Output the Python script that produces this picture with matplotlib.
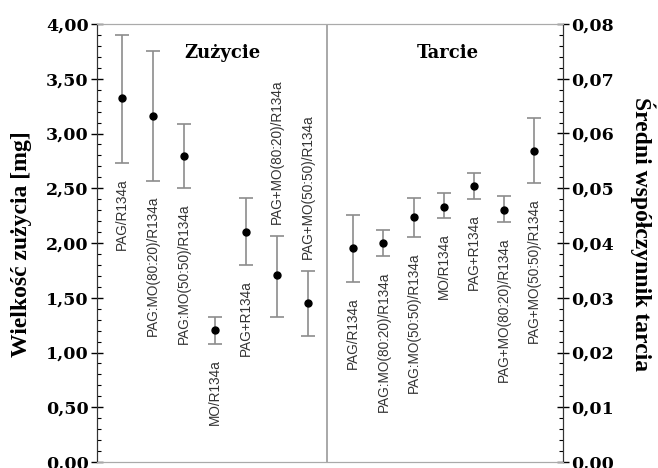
import numpy as np
import matplotlib
matplotlib.use("Agg")
import matplotlib.pyplot as plt
from matplotlib.ticker import MultipleLocator, FuncFormatter
from matplotlib.font_manager import FontProperties

# Oil/refrigerant combinations
labels = ["PAG/R134a", "PAG:MO(80:20)/R134a", "PAG:MO(50:50)/R134a", "MO/R134a",
          "PAG+R134a", "PAG+MO(80:20)/R134a", "PAG+MO(50:50)/R134a"]

# Wear [mg]: mean, upper and lower bound
wear_mean = [3.32, 3.16, 2.79, 1.21, 2.10, 1.71, 1.45]
wear_hi = [3.90, 3.75, 3.09, 1.32, 2.41, 2.06, 1.74]
wear_lo = [2.73, 2.57, 2.50, 1.08, 1.80, 1.32, 1.15]

# Mean friction coefficient: mean, upper and lower bound
fric_mean = [0.0391, 0.0400, 0.0448, 0.0466, 0.0504, 0.0460, 0.0568]
fric_hi = [0.0451, 0.0424, 0.0482, 0.0491, 0.0528, 0.0486, 0.0628]
fric_lo = [0.0329, 0.0376, 0.0411, 0.0446, 0.0480, 0.0438, 0.0510]

# labels drawn above the bar instead of below
above_wear = [False, False, False, False, False, True, True]

serif_b = dict(family="DejaVu Serif", weight="bold")
title_font = dict(family="Liberation Serif", weight="bold", size=17)
lab_font = dict(family="Liberation Sans", size=9.8, color="#333333")
bar_color = "#8c8c8c"

fig = plt.figure(figsize=(6.58, 4.68), dpi=100)
ax1 = fig.add_axes([97 / 658, 6 / 468, 466 / 658, 438 / 468])
ax2 = ax1.twinx()

x_wear = np.arange(7) * 1.0 + 0.8
x_fric = np.arange(7) * 0.97 + 8.25


def draw_series(ax, x, mean, lo, hi, above=None):
    mean = np.array(mean)
    err = [mean - np.array(lo), np.array(hi) - mean]
    ax.errorbar(x, mean, yerr=err, fmt="o", color="black", ms=5,
                ecolor=bar_color, elinewidth=1.2, capsize=5, capthick=1.2, zorder=3)
    for i, txt in enumerate(labels):
        up = above[i] if above else False
        if up:
            ax.annotate(txt, (x[i], hi[i]), xytext=(0, 9), textcoords="offset points",
                        rotation=90, ha="center", va="bottom", **lab_font)
        else:
            ax.annotate(txt, (x[i], lo[i]), xytext=(0, -11), textcoords="offset points",
                        rotation=90, ha="center", va="top", **lab_font)


draw_series(ax1, x_wear, wear_mean, wear_lo, wear_hi, above_wear)
draw_series(ax2, x_fric, fric_mean, fric_lo, fric_hi)

ax1.set_xlim(0, 15)
ax1.set_ylim(0, 4)
ax2.set_ylim(0, 0.08)
ax1.set_xticks([])

ax1.axvline(7.4, color="#999999", lw=1.2)

fmt = FuncFormatter(lambda v, p: f"{v:.2f}".replace(".", ","))
ax1.yaxis.set_major_locator(MultipleLocator(0.5))
ax1.yaxis.set_minor_locator(MultipleLocator(0.1))
ax1.yaxis.set_major_formatter(fmt)
ax2.yaxis.set_major_locator(MultipleLocator(0.01))
ax2.yaxis.set_minor_locator(MultipleLocator(0.002))
ax2.yaxis.set_major_formatter(fmt)

for ax in (ax1, ax2):
    ax.tick_params(axis="y", which="major", direction="inout", length=8, width=1, pad=2)
    ax.tick_params(axis="y", which="minor", direction="in", length=3, width=0.8)
    for t in ax.get_yticklabels():
        t.set_fontproperties(FontProperties(size=12.5, **serif_b))
    ax.spines["top"].set_color("#aaaaaa")
    ax.spines["bottom"].set_color("#aaaaaa")
    ax.spines["left"].set_color("#333333")
    ax.spines["right"].set_color("#333333")

ax1.set_ylabel("Wielkość zużycia [mg]", va="center", **title_font)
ax1.yaxis.set_label_coords(-0.161, 0.498)
ax2.set_ylabel("Średni współczynnik tarcia", rotation=-90, va="center", **title_font)
ax2.yaxis.set_label_coords(1.172, 0.52)

ax1.text(0.27, 0.934, "Zużycie", transform=ax1.transAxes, ha="center", va="center",
         size=13, **serif_b)
ax1.text(0.753, 0.934, "Tarcie", transform=ax1.transAxes, ha="center", va="center",
         size=13, **serif_b)

fig.savefig("out.png", dpi=100)
